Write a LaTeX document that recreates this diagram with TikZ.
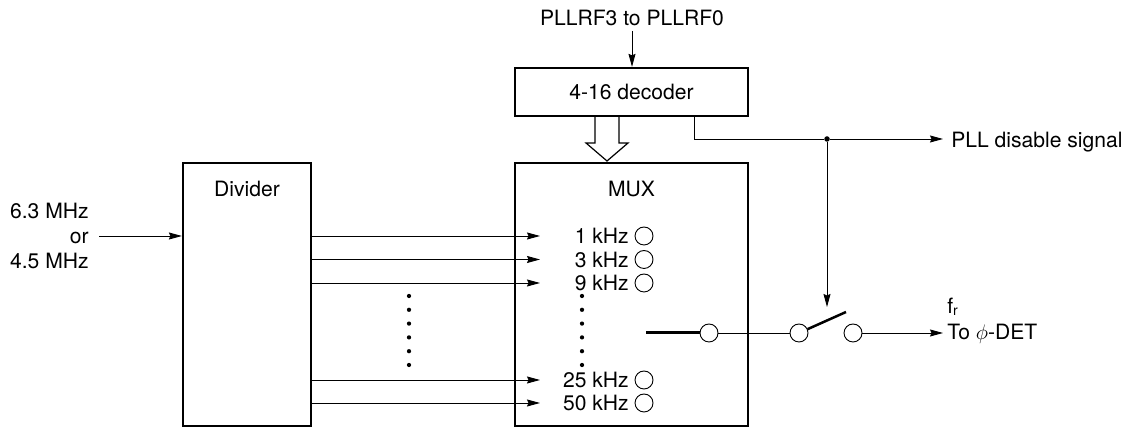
\documentclass[tikz,border=0pt]{standalone}
\usepackage{fontspec}
\setmainfont{TeX Gyre Heros}
\usetikzlibrary{arrows.meta,positioning,calc}
\tikzset{
    every node/.style={font=\fontsize{12}{14}\selectfont},
    block/.style={draw, line width=0.045cm, inner sep=0pt},
    sig/.style={-{Stealth[length=0.26cm,width=0.14cm,inset=0.03cm]}, line width=0.018cm},
    wire/.style={line width=0.018cm},
    heavy/.style={line width=0.06cm},
    term/.style={draw, circle, fill=white, line width=0.018cm, minimum size=0.36cm, inner sep=0pt},
    ratelabel/.style={anchor=east, inner sep=0pt},
    dotcol/.style={line width=0.085cm, line cap=round, dash pattern=on 0pt off 0.276cm},
    joint/.style={circle, fill=black, minimum size=0.11cm, inner sep=0pt}
}
\begin{document}
\begin{tikzpicture}
    \useasboundingbox (0,0) rectangle (22.54,8.58);

    % Blocks
    \node[block, minimum width=4.66cm, minimum height=0.96cm] (decoder) at (12.63,6.74) {4-16 decoder};
    \node[block, minimum width=4.66cm, minimum height=5.26cm] (mux) at (12.63,2.69) {};
    \node[block, minimum width=2.56cm, minimum height=5.26cm] (divider) at (4.94,2.69) {};
    \node at (4.94,4.8) (dividertext) {Divider};
    \node at (12.63,4.8) (muxtext) {MUX};

    % Inputs
    \node[inner sep=0pt] (pllrf) at (12.64,8.22) {PLLRF3 to PLLRF0};
    \node[align=right, anchor=east, inner sep=0pt, font=\fontsize{12}{14.2}\selectfont] (clkin) at (1.78,3.86) {6.3 MHz\\or\\4.5 MHz};
    \coordinate (clkstart) at (1.98,3.86);
    \coordinate (declabel) at (12.64,7.96);
    \draw[sig] (declabel) -- (declabel |- decoder.north);
    \draw[sig] (clkstart) -- (clkstart -| divider.west);

    % Rates
    \node[ratelabel] (f1) at (12.58,3.86) {1 kHz};
    \node[ratelabel] (f3) at (12.58,3.39) {3 kHz};
    \node[ratelabel] (f9) at (12.58,2.92) {9 kHz};
    \node[ratelabel] (f25) at (12.58,0.98) {25 kHz};
    \node[ratelabel] (f50) at (12.58,0.52) {50 kHz};
    \node[term] (t1) at (12.88,3.86) {};
    \node[term] (t3) at (12.88,3.39) {};
    \node[term] (t9) at (12.88,2.92) {};
    \node[term] (t25) at (12.88,0.98) {};
    \node[term] (t50) at (12.88,0.52) {};
    \coordinate (muxin) at (10.8,0);
    \draw[sig] (divider.east |- f1) -- (muxin |- f1);
    \draw[sig] (divider.east |- f3) -- (muxin |- f3);
    \draw[sig] (divider.east |- f9) -- (muxin |- f9);
    \draw[sig] (divider.east |- f25) -- (muxin |- f25);
    \draw[sig] (divider.east |- f50) -- (muxin |- f50);

    % Dots
    \coordinate (dotsa) at (8.18,2.66);
    \coordinate (dotsb) at (8.18,1.27);
    \coordinate (dotsc) at (11.64,2.66);
    \coordinate (dotsd) at (11.64,1.27);
    \draw[dotcol] (dotsa) -- (dotsb);
    \draw[dotcol] (dotsc) -- (dotsd);

    % Hollow bus arrow
    \coordinate (bustip) at (12.14,5.36);
    \coordinate (busl) at (11.9,5.72);
    \coordinate (busr) at (12.38,5.72);
    \draw[wire, line width=0.024cm] (busl |- decoder.south) -- (busl) -- (11.72,5.72) -- (bustip) -- (12.56,5.72) -- (busr) -- (busr |- decoder.south);

    % Switch
    \node[term] (sa) at (14.18,1.92) {};
    \node[term] (sb) at (15.98,1.92) {};
    \node[term] (sc) at (17.06,1.92) {};
    \coordinate (armstart) at (12.92,1.92);
    \coordinate (swtip) at (16.92,2.34);
    \coordinate (swtop) at (16.54,2.44);
    \draw[heavy] (armstart) -- (sa);
    \draw[wire] (sa) -- (sb);
    \draw[heavy, line width=0.05cm] (sb) -- (swtip);

    % Outputs
    \node[anchor=west, inner sep=0pt] (disable) at (19.02,5.74) {PLL disable signal};
    \node[anchor=west, inner sep=0pt] (todet) at (18.94,1.9) {To $\phi$-DET};
    \node[anchor=west, inner sep=0pt] (fr) at (18.94,2.44) {f{\fontsize{8}{9}\selectfont\raisebox{-0.3ex}{r}}};
    \coordinate (jn) at (16.54,5.8);
    \coordinate (takeoff) at (13.88,5.8);
    \coordinate (outend) at (18.86,0);
    \node[joint] (jnode) at (jn) {};
    \draw[sig] (sc) -- (sc -| outend);
    \draw[wire] (takeoff |- decoder.south) -- (takeoff) -- (jnode);
    \draw[sig] (jnode) -- (jnode -| outend);
    \draw[sig] (jnode) -- (swtop);
\end{tikzpicture}
\end{document}
